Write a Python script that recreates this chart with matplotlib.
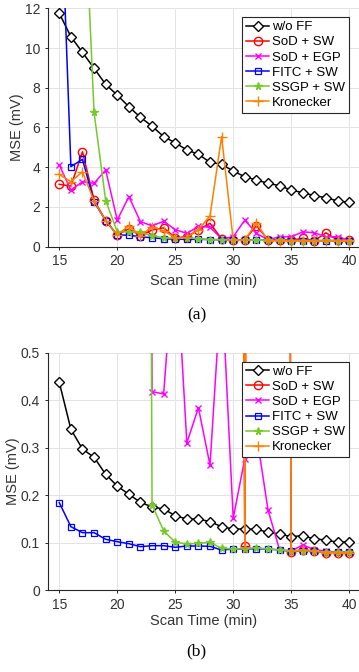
import matplotlib
matplotlib.use("Agg")
import matplotlib.pyplot as plt
import numpy as np

# ---------------- data ----------------
scan_time = list(range(15, 41))

series_names = ["w/o FF", "SoD + SW", "SoD + EGP", "FITC + SW", "SSGP + SW", "Kronecker"]

# (a) top panel
a_woff = [11.75, 10.57, 9.78, 8.98, 8.17, 7.63, 7.05, 6.51, 6.07, 5.54, 5.23, 4.87, 4.65,
          4.25, 4.15, 3.81, 3.52, 3.36, 3.19, 3.07, 2.85, 2.72, 2.57, 2.47, 2.30, 2.23]
a_sod_sw = [3.14, 3.05, 4.78, 2.35, 1.31, 0.59, 0.90, 0.55, 0.84, 0.95, 0.45, 0.50, 0.85,
            1.18, 0.40, 0.34, 0.34, 1.06, 0.35, 0.35, 0.33, 0.42, 0.30, 0.70, 0.33, 0.33]
a_sod_egp = [4.11, 2.85, 3.27, 3.19, 3.86, 1.34, 2.52, 1.26, 1.05, 1.28, 0.86, 0.67, 1.02,
             0.98, 0.40, 0.50, 1.34, 0.67, 0.35, 0.50, 0.50, 0.75, 0.70, 0.50, 0.50, 0.33]
a_fitc_sw = [20.0, 4.03, 4.40, 2.26, 1.31, 0.59, 0.58, 0.50, 0.45, 0.40, 0.38, 0.37, 0.37,
             0.36, 0.35, 0.34, 0.33, 0.33, 0.32, 0.32, 0.31, 0.31, 0.30, 0.30, 0.30, 0.30]
a_ssgp_sw = [30.0, 25.0, 19.9, 6.76, 2.32, 0.75, 0.75, 0.72, 0.55, 0.45, 0.42, 0.45, 0.40,
             0.36, 0.35, 0.33, 0.33, 0.32, 0.32, 0.32, 0.31, 0.31, 0.31, 0.32, 0.31, 0.31]
a_kron = [3.64, 3.27, 3.77, 2.30, 1.30, 0.60, 1.05, 0.55, 1.00, 0.80, 0.45, 0.47, 0.84,
          1.56, 5.54, 0.33, 0.33, 1.20, 0.31, 0.31, 0.31, 0.31, 0.31, 0.31, 0.31, 0.31]

# (b) bottom panel
b_woff = [0.4376, 0.3386, 0.297, 0.2796, 0.2437, 0.219, 0.2016, 0.1847, 0.175, 0.1707,
          0.1566, 0.1496, 0.1496, 0.144, 0.1334, 0.1285, 0.1285, 0.128, 0.1215, 0.118,
          0.1124, 0.1145, 0.1075, 0.1054, 0.1004, 0.1018]
b_sod_sw = [9.0, 8.5, 8.0, 7.6, 7.2, 6.9, 6.6, 6.3, 6.0, 5.8, 5.6, 5.4, 5.3, 5.2, 5.1, 5.0,
            0.0927, 6.0, 5.8, 5.6, 0.081, 0.0843, 0.082, 0.079, 0.079, 0.0779]
b_sod_egp = [9.0, 8.5, 8.0, 7.6, 7.2, 6.9, 6.6, 6.3, 0.418, 0.413, 0.74, 0.31, 0.384,
             0.263, 0.65, 0.151, 0.277, 0.33, 0.169, 0.0843, 0.082, 0.095, 0.085, 0.082,
             0.080, 0.080]
b_fitc_sw = [0.184, 0.1334, 0.1208, 0.1208, 0.1068, 0.1018, 0.0976, 0.0913, 0.0934, 0.0934,
             0.090, 0.0927, 0.0927, 0.092, 0.0843, 0.0864, 0.0864, 0.087, 0.0864, 0.0843,
             0.082, 0.083, 0.082, 0.080, 0.080, 0.080]
b_ssgp_sw = [9.0, 8.5, 8.0, 7.6, 7.2, 6.9, 6.6, 6.3, 0.179, 0.125, 0.1004, 0.097, 0.0983,
             0.1004, 0.0878, 0.0864, 0.087, 0.0892, 0.0864, 0.0843, 0.082, 0.083, 0.082,
             0.080, 0.080, 0.080]
b_kron = [9.5, 9.0, 8.5, 8.0, 7.6, 7.2, 6.9, 6.6, 6.3, 6.0, 5.8, 5.6, 5.4, 5.3, 5.2, 5.1,
          0.090, 6.2, 6.0, 5.8, 0.082, 0.085, 0.082, 0.079, 0.079, 0.078]

x_ticks = [15, 20, 25, 30, 35, 40]
a_y_ticks = [0, 2, 4, 6, 8, 10, 12]
b_y_ticks = [0, 0.1, 0.2, 0.3, 0.4, 0.5]
b_y_ticklabels = ["0", "0.1", "0.2", "0.3", "0.4", "0.5"]

# ---------------- style ----------------
plt.rcParams['font.family'] = ['Liberation Sans', 'DejaVu Sans']
GREEN = '#76C92B'
ORANGE = '#FF8000'
styles = [
    dict(color='black', marker='D', ms=5.5, mfc='white', mew=1.0),
    dict(color='#FF0000', marker='o', ms=6.0, mfc='none', mew=1.0),
    dict(color='#FF00FF', marker='x', ms=4.0, mew=1.0),
    dict(color='#0000FF', marker='s', ms=4.0, mfc='none', mew=0.9),
    dict(color=GREEN, marker='*', ms=5.5, mew=1.0),
    dict(color=ORANGE, marker='+', ms=6.5, mew=1.0),
]
TXT = '#333333'

W, H = 359, 672
LEFT_PX = 47.7
fig = plt.figure(figsize=(W / 100, H / 100), dpi=100)

def make_axes(top_px, bottom_px):
    right_px = 359
    return fig.add_axes([LEFT_PX / W, 1 - bottom_px / H,
                         (right_px - LEFT_PX) / W, (bottom_px - top_px) / H])

def style_axes(ax, top_px, bottom_px, ylab_x_px, xlab_y_px):
    for s in ['top', 'right']:
        ax.spines[s].set_visible(False)
    for s in ['left', 'bottom']:
        ax.spines[s].set_color('#262626')
        ax.spines[s].set_linewidth(0.8)
    ax.grid(True, color='#E3E3E3', linewidth=0.7)
    ax.set_axisbelow(True)
    ax.tick_params(direction='out', length=2.5, width=0.7, colors='#262626',
                   labelsize=10, labelcolor=TXT, pad=3)
    ax.set_xlim(14, 40.85)
    ax.set_xticks(x_ticks)
    ax.set_xlabel("Scan Time (min)", fontsize=10.5, color=TXT)
    ax.set_ylabel("MSE (mV)", fontsize=10.5, color=TXT)
    w_px = 359 - LEFT_PX
    h_px = bottom_px - top_px
    ax.yaxis.set_label_coords((ylab_x_px - LEFT_PX) / w_px, 0.5)
    ax.xaxis.set_label_coords(0.5, -(xlab_y_px - bottom_px) / h_px)
    ax.xaxis.label.set_va('center')
    ax.yaxis.label.set_va('center')

def draw(ax, data):
    for name, vals, st in zip(series_names, data, styles):
        ax.plot(scan_time, vals, label=name, lw=1.1, clip_on=True, **st)
    leg = ax.legend(loc='upper right', bbox_to_anchor=(0.985, 0.985),
                    fontsize=9.5, frameon=True, fancybox=False,
                    edgecolor='#262626', framealpha=1, borderpad=0.3,
                    labelspacing=0.22, handlelength=1.8, handletextpad=0.2,
                    borderaxespad=0.4)
    leg.get_frame().set_linewidth(0.8)
    for t in leg.get_texts():
        t.set_color('#000000')

# top
ax1 = make_axes(8.3, 246.7)
style_axes(ax1, 8.3, 246.7, 17, 280.7)
draw(ax1, [a_woff, a_sod_sw, a_sod_egp, a_fitc_sw, a_ssgp_sw, a_kron])
ax1.set_ylim(0, 12)
ax1.set_yticks(a_y_ticks)

# bottom
ax2 = make_axes(352.7, 590)
style_axes(ax2, 352.7, 590, 13, 620.7)
draw(ax2, [b_woff, b_sod_sw, b_sod_egp, b_fitc_sw, b_ssgp_sw, b_kron])
ax2.set_ylim(0, 0.5)
ax2.set_yticks(b_y_ticks)
ax2.set_yticklabels(b_y_ticklabels)

fig.text(196.7 / W, 1 - 315 / H, "(a)", ha='center', va='center',
         fontsize=12.5, family='Liberation Serif', color='black')
fig.text(196.7 / W, 1 - 651.7 / H, "(b)", ha='center', va='center',
         fontsize=12.5, family='Liberation Serif', color='black')

fig.savefig("out.png", dpi=100)
